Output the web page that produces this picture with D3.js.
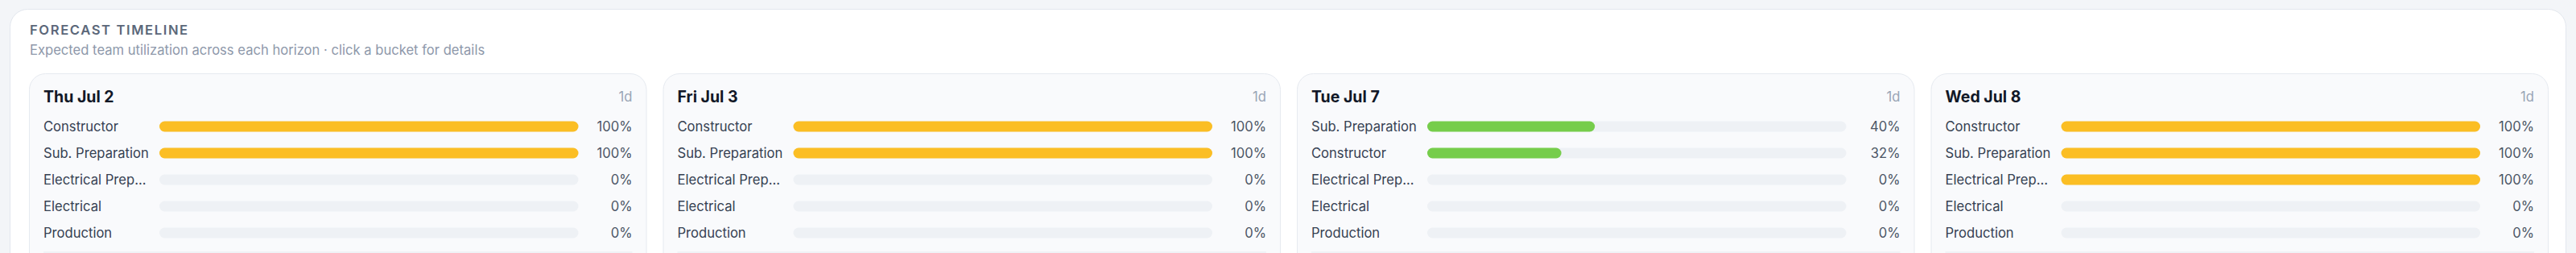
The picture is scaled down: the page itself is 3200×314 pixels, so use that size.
<!DOCTYPE html>
<html lang="en">
<script src="https://d3js.org/d3.v7.min.js"></script>
<style>
  body {
    margin: 0;
    background: #f3f5f8;
    font-family: Inter, "Noto Sans", sans-serif;
  }
  .label { fill: #364152; font-size: 16.6px; }
  .pct { fill: #4b5565; font-size: 16.6px; text-anchor: end; }
  .day { fill: #111827; font-size: 19.5px; font-weight: 700; }
  .span { fill: #9aa5b6; font-size: 16.6px; text-anchor: end; }
</style>
<body>
<svg id="chart" width="3200" height="314"></svg>
<script>
  // buckets (cards) and the teams shown in each
  var buckets = ["Thu Jul 2", "Fri Jul 3", "Tue Jul 7", "Wed Jul 8"];
  var spans = ["1d", "1d", "1d", "1d"];
  var teams = ["Constructor", "Sub. Preparation", "Electrical Preparation", "Electrical", "Production"];

  // utilization % per bucket, in the order of `teams`
  var thuJul2 = [100, 100, 0, 0, 0];
  var friJul3 = [100, 100, 0, 0, 0];
  var tueJul7 = [32, 40, 0, 0, 0];
  var wedJul8 = [100, 100, 100, 0, 0];
  var values = [thuJul2, friJul3, tueJul7, wedJul8];

  var svg = d3.select("#chart");

  // outer panel
  svg.append("rect")
    .attr("x", 12.5).attr("y", 11.5)
    .attr("width", 3175).attr("height", 400)
    .attr("rx", 22)
    .attr("fill", "#ffffff")
    .attr("stroke", "#e3e7ee");

  svg.append("text")
    .attr("x", 37).attr("y", 43)
    .attr("fill", "#5b6779")
    .style("font-size", "16.6px")
    .style("font-weight", 600)
    .style("letter-spacing", "1.6px")
    .text("FORECAST TIMELINE");

  svg.append("text")
    .attr("x", 37).attr("y", 68)
    .attr("fill", "#8e98aa")
    .style("font-size", "16.6px")
    .text("Expected team utilization across each horizon \u00b7 click a bucket for details");

  var cardX = d3.scaleBand()
    .domain(buckets)
    .range([36, 3166])
    .paddingInner(20 / 787.5)
    .paddingOuter(0);
  var cw = cardX.bandwidth();

  var rowY = d3.scalePoint()
    .domain(d3.range(teams.length))
    .range([157, 289]);

  var x = d3.scaleLinear()
    .domain([0, 100])
    .range([162, cw - 85]);

  var color = d3.scaleThreshold()
    .domain([80])
    .range(["#76cd4b", "#fbbe24"]);

  var cards = svg.selectAll("g.card")
    .data(buckets)
    .enter()
    .append("g")
    .attr("class", "card")
    .attr("transform", function(d) { return "translate(" + cardX(d) + ",91)"; });

  cards.append("rect")
    .attr("x", 0.5).attr("y", 0.5)
    .attr("width", cw - 1).attr("height", 300)
    .attr("rx", 20)
    .attr("fill", "#f9fafc")
    .attr("stroke", "#e6eaf0");

  cards.append("text")
    .attr("class", "day")
    .attr("x", 18).attr("y", 36)
    .text(function(d) { return d; });

  cards.append("text")
    .attr("class", "span")
    .attr("x", cw - 18).attr("y", 35)
    .text(function(d, i) { return spans[i]; });

  cards.append("line")
    .attr("x1", 18).attr("x2", cw - 18)
    .attr("y1", 222).attr("y2", 222)
    .attr("stroke", "#e6eaf0");

  cards.each(function(b, bi) {
    // rows sorted by utilization, highest first
    var rows = teams.map(function(t, i) { return {team: t, value: values[bi][i]}; });
    rows.sort(function(a, b) { return b.value - a.value; });

    var g = d3.select(this).append("g").attr("transform", "translate(0,-91)");
    var row = g.selectAll("g.row")
      .data(rows)
      .enter()
      .append("g")
      .attr("transform", function(d, i) { return "translate(0," + rowY(i) + ")"; });

    row.append("text")
      .attr("class", "label")
      .attr("x", 18).attr("dy", "0.35em")
      .text(function(d) { return d.team; })
      .each(function(d) {
        var el = d3.select(this), s = d.team;
        while (this.getComputedTextLength() > 135 && s.length > 1) {
          s = s.slice(0, -1);
          el.text(s.trim() + "...");
        }
      });

    row.append("rect")
      .attr("x", x(0)).attr("y", -6.5)
      .attr("width", x(100) - x(0)).attr("height", 13)
      .attr("rx", 6.5)
      .attr("fill", "#eef1f5");

    row.filter(function(d) { return d.value > 0; })
      .append("rect")
      .attr("x", x(0)).attr("y", -6.5)
      .attr("width", function(d) { return x(d.value) - x(0); })
      .attr("height", 13)
      .attr("rx", 6.5)
      .attr("fill", function(d) { return color(d.value); });

    row.append("text")
      .attr("class", "pct")
      .attr("x", cw - 18).attr("dy", "0.35em")
      .text(function(d) { return d.value + "%"; });
  });
</script>
</body>
</html>
